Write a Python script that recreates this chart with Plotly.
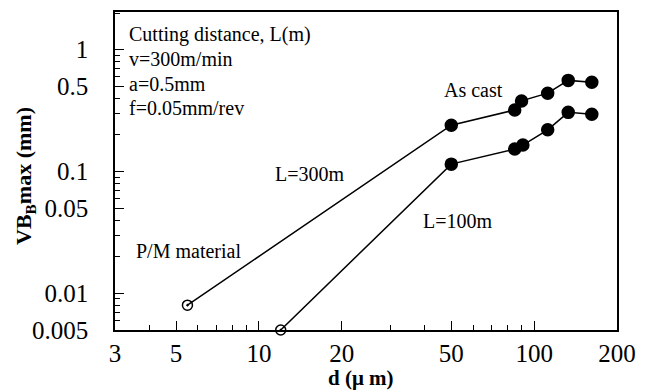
import plotly.graph_objects as go
import numpy as np

# data
d_300 = [5.5, 50, 85, 90, 112, 133, 162]
vb_300 = [0.008, 0.24, 0.32, 0.38, 0.44, 0.56, 0.54]
d_100 = [12, 50, 85, 91, 112, 133, 162]
vb_100 = [0.005, 0.115, 0.153, 0.165, 0.22, 0.306, 0.295]

x_ticks = [3, 5, 10, 20, 50, 100, 200]
y_ticks = [0.005, 0.01, 0.05, 0.1, 0.5, 1]
y_ticktext = ["0.005", "0.01", "0.05", "0.1", "0.5", "1"]

FONT = "Liberation Serif"

fig = go.Figure()
for xs, ys in [(d_300, vb_300), (d_100, vb_100)]:
    fig.add_trace(go.Scatter(
        x=xs, y=ys, mode="lines+markers",
        line=dict(color="black", width=1.5),
        marker=dict(symbol=["circle-open-dot"] + ["circle"] * (len(xs) - 1),
                    size=[10] + [12] * (len(xs) - 1), color="black", opacity=1,
                    line=dict(color="black", width=1.5)),
        cliponaxis=False, showlegend=False, hoverinfo="skip",
    ))

minor_x = [v * m for m in (1, 10, 100) for v in range(2, 10) if 3 <= v * m <= 200]
minor_y = [v * m for m in (0.001, 0.01, 0.1, 1) for v in range(2, 10) if 0.005 <= v * m <= 2]

fig.update_xaxes(
    type="log", range=[np.log10(3), np.log10(200)],
    tickmode="array", tickvals=x_ticks, ticktext=[str(v) for v in x_ticks],
    ticks="inside", ticklen=9, tickwidth=1, tickcolor="black",
    showline=True, linecolor="black", linewidth=1.5, mirror=True,
    showgrid=False, zeroline=False, ticklabelstandoff=0,
    tickfont=dict(family=FONT, size=25, color="black"),
    minor=dict(tickmode="array", tickvals=minor_x, ticks="inside", ticklen=5,
               tickcolor="black", showgrid=False),
)
fig.update_yaxes(
    type="log", range=[np.log10(0.005), np.log10(2.04)],
    tickmode="array", tickvals=y_ticks, ticktext=y_ticktext,
    ticks="inside", ticklen=9, tickwidth=1, tickcolor="black",
    showline=True, linecolor="black", linewidth=1.5, mirror=True,
    showgrid=False, zeroline=False, ticklabelstandoff=20,
    tickfont=dict(family=FONT, size=25, color="black"),
    minor=dict(tickmode="array", tickvals=minor_y, ticks="inside", ticklen=5,
               tickcolor="black", showgrid=False),
)

def px2paper(px, py):
    return (px - 115) / 502, (330 - py) / 320

annos = [
    ("Cutting distance, L(m)", 127, 33),
    ("v=300m/min", 127, 57),
    ("a=0.5mm", 127, 82),
    ("f=0.05mm/rev", 127, 107),
]
for text, px, py in annos:
    xp, yp = px2paper(px, py)
    fig.add_annotation(x=xp, y=yp, xref="paper", yref="paper", text=text,
                       showarrow=False, xanchor="left", yanchor="middle",
                       font=dict(family=FONT, size=20, color="black"))
for text, px, py in [("L=300m", 309, 173), ("As cast", 473, 88),
                     ("P/M material", 188, 250), ("L=100m", 457, 220)]:
    xp, yp = px2paper(px, py)
    fig.add_annotation(x=xp, y=yp, xref="paper", yref="paper", text=text,
                       showarrow=False, xanchor="center", yanchor="middle",
                       font=dict(family=FONT, size=20, color="black"))

# axis titles
xp, yp = px2paper(361, 378)
fig.add_annotation(x=xp, y=yp, xref="paper", yref="paper", text="<b>d (μ m)</b>",
                   showarrow=False, xanchor="center", yanchor="middle",
                   font=dict(family=FONT, size=21, color="black"))
xp, yp = px2paper(25, 175)
fig.add_annotation(x=xp, y=yp, xref="paper", yref="paper",
                   text="<b>VB<sub>B</sub>max (mm)</b>", textangle=-90,
                   showarrow=False, xanchor="center", yanchor="middle",
                   font=dict(family=FONT, size=22, color="black"))

fig.update_layout(
    width=653, height=391,
    margin=dict(l=115, r=36, t=10, b=61),
    paper_bgcolor="white", plot_bgcolor="white",
)
fig.write_html("out.html", config={"displayModeBar": False},
               post_script="document.body.style.margin='0';document.body.style.padding='0';")
